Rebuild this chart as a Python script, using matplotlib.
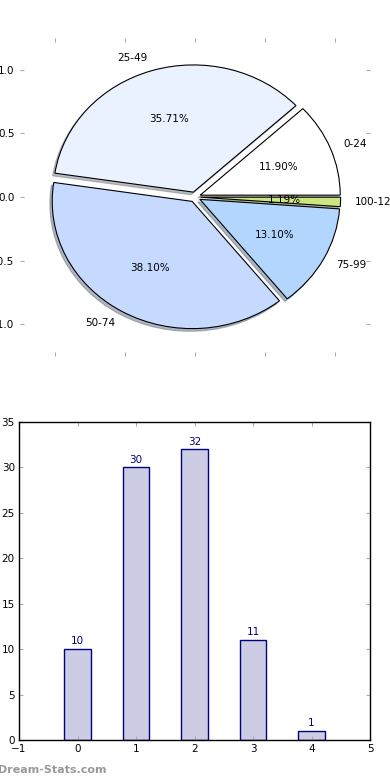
import matplotlib
matplotlib.use("Agg")
import matplotlib.pyplot as plt

labels = ["0-24", "25-49", "50-74", "75-99", "100-124"]
counts = [10, 30, 32, 11, 1]
pie_colors = ["#FFFFFF", "#EBF2FF", "#C6D9FF", "#B3D6FF", "#CCE680"]
bar_positions = [0, 1, 2, 3, 4]
y_ticks = [0, 5, 10, 15, 20, 25, 30, 35]
x_ticks = [-1, 0, 1, 2, 3, 4, 5]
pie_ticks = [-1.0, -0.5, 0.0, 0.5, 1.0]

FS = 7.5
plt.rcParams['font.family'] = ['DejaVu Sans']
plt.rcParams['font.size'] = FS

fig = plt.figure(figsize=(3.9, 7.8), dpi=100)

# Pie chart
ax1 = fig.add_axes([20/390, 1-356/780, 350/390, 318/780])
wedges, texts, autotexts = ax1.pie(
    counts, labels=labels, colors=pie_colors, explode=[0.04]*5,
    autopct="%1.2f%%", shadow={'ox': -0.012, 'oy': -0.015, 'shade': 0.5},
    startangle=0,
    wedgeprops=dict(edgecolor="black", linewidth=0.8),
    textprops=dict(fontsize=FS))
ax1.set_aspect("auto")
ax1.set_xlim(-1.25, 1.25)
ax1.set_ylim(-1.25, 1.25)
ax1.set_frame_on(False)
ax1.set_xticks(pie_ticks)
ax1.set_yticks(pie_ticks)
ax1.set_xticklabels([])
ax1.set_yticklabels([f"{t:.1f}".replace("-", "\u2212") for t in pie_ticks])
ax1.tick_params(direction="in", length=3, color="#aaaaaa", top=True, right=True,
                labelsize=FS, pad=4)

# Bar chart
ax2 = fig.add_axes([19/390, 40/780, 351/390, 318/780])
bars = ax2.bar(bar_positions, counts, width=0.45, color="#CCCCE5",
               edgecolor="#000080", linewidth=1.0)
for x, v in zip(bar_positions, counts):
    ax2.text(x, v + 0.3, str(v), ha="center", va="bottom", color="#000080", fontsize=FS)
ax2.set_xlim(-1, 5)
ax2.set_ylim(0, 35)
ax2.set_xticks(x_ticks)
ax2.set_yticks(y_ticks)
ax2.tick_params(direction="in", length=3, color="#aaaaaa", top=True, right=True,
                labelsize=FS, pad=3)
for s in ax2.spines.values():
    s.set_linewidth(1.0)

fig.text(-0.005, 10/780, "Dream-Stats.com", fontsize=8, fontweight="bold",
         color="#999999", ha="left", va="center")

fig.savefig("out.png", dpi=100)
